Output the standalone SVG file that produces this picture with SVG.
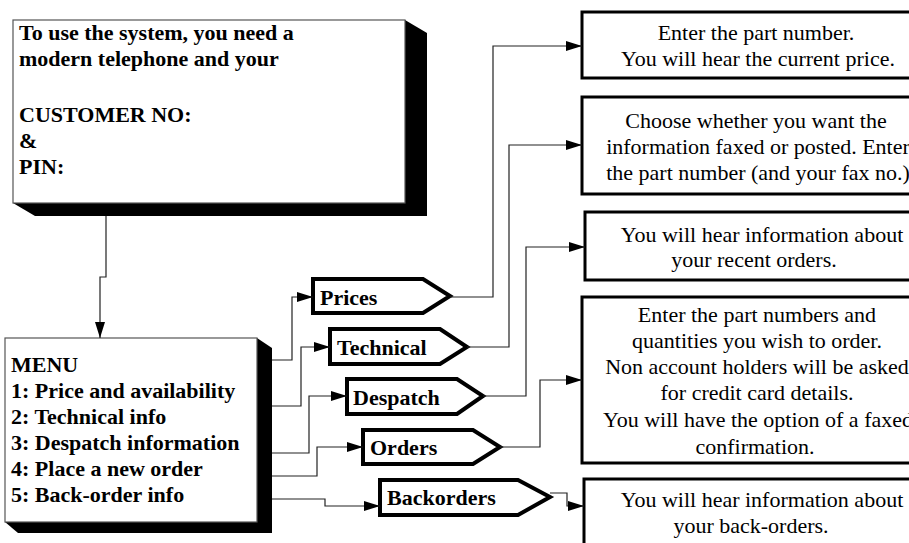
<svg xmlns="http://www.w3.org/2000/svg" width="909" height="543" viewBox="0 0 909 543">
<defs>
<style>
text{font-family:"Liberation Serif","Times New Roman",serif;font-size:22px;fill:#000}
.b{font-weight:bold}
.info text{text-anchor:middle}
.panel{fill:#fff;stroke:#555;stroke-width:1.2}
.shadow{fill:#000}
.tab{fill:#fff;stroke:#000;stroke-width:4;stroke-linejoin:miter}
.box{fill:#fff;stroke:#000;stroke-width:3}
.conn path{fill:none;stroke:#222;stroke-width:1.2}
</style>
<marker id="ah" markerWidth="16" markerHeight="10" refX="16" refY="5" orient="auto" markerUnits="userSpaceOnUse">
<path d="M0,0 L16,5 L0,10 Z" fill="#000"/>
</marker>
</defs>
<rect width="909" height="543" fill="#fff"/>

<g id="intro">
<polygon class="shadow" points="13,203 35,216 427,216 427,33 405,20"/>
<rect class="panel" x="13" y="20" width="392" height="183"/>
<text class="b" x="19" y="40">To use the system, you need a</text>
<text class="b" x="19" y="66">modern telephone and your</text>
<text class="b" x="19" y="122">CUSTOMER NO:</text>
<text class="b" x="19" y="148">&amp;</text>
<text class="b" x="19" y="174">PIN:</text>
</g>

<g id="menu">
<polygon class="shadow" points="5,522 18,533 272,533 272,348 257,338"/>
<rect class="panel" x="5" y="338" width="252" height="184"/>
<text class="b" x="11" y="372">MENU</text>
<text class="b" x="11" y="398">1: Price and availability</text>
<text class="b" x="11" y="424">2: Technical info</text>
<text class="b" x="11" y="450">3: Despatch information</text>
<text class="b" x="11" y="476">4: Place a new order</text>
<text class="b" x="11" y="502">5: Back-order info</text>
</g>

<g id="prices">
<polygon class="tab" points="313,279 423,279 450,296 423,313 313,313"/>
<text class="b" x="320" y="305">Prices</text>
</g>
<g id="technical">
<polygon class="tab" points="330,329 440,329 467,347 440,364 330,364"/>
<text class="b" x="337" y="355">Technical</text>
</g>
<g id="despatch">
<polygon class="tab" points="347,379 457,379 483,396 457,414 347,414"/>
<text class="b" x="353" y="405">Despatch</text>
</g>
<g id="orders">
<polygon class="tab" points="363,430 473,430 500,447 473,464 363,464"/>
<text class="b" x="370" y="455">Orders</text>
</g>
<g id="backorders">
<polygon class="tab" points="380,480 518,480 550,497 518,515 380,515"/>
<text class="b" x="387" y="505">Backorders</text>
</g>

<g id="info-price" class="info">
<rect class="box" x="582" y="12" width="360" height="66"/>
<text x="756" y="40">Enter the part number.</text>
<text x="758" y="66">You will hear the current price.</text>
</g>
<g id="info-technical" class="info">
<rect class="box" x="582" y="97" width="360" height="97"/>
<text x="756" y="128">Choose whether you want the</text>
<text x="758" y="154">information faxed or posted. Enter</text>
<text x="758" y="180">the part number (and your fax no.)</text>
</g>
<g id="info-despatch" class="info">
<rect class="box" x="585" y="212" width="360" height="68"/>
<text x="762" y="242">You will hear information about</text>
<text x="754" y="267">your recent orders.</text>
</g>
<g id="info-orders" class="info">
<rect class="box" x="582" y="297" width="360" height="166"/>
<text x="757" y="322">Enter the part numbers and</text>
<text x="757" y="348">quantities you wish to order.</text>
<text x="757" y="374">Non account holders will be asked</text>
<text x="757" y="400">for credit card details.</text>
<text x="758" y="427">You will have the option of a faxed</text>
<text x="755" y="454">confirmation.</text>
</g>
<g id="info-backorders" class="info">
<rect class="box" x="584" y="479" width="360" height="90"/>
<text x="762" y="507">You will hear information about</text>
<text x="751" y="533">your back-orders.</text>
</g>

<g id="connectors" class="conn">
<path d="M106,216 V277 H100 V338" marker-end="url(#ah)"/>
<path d="M272,360 H292 V297 H313" marker-end="url(#ah)"/>
<path d="M272,406 H301 V347 H330" marker-end="url(#ah)"/>
<path d="M272,453 H309 V396 H347" marker-end="url(#ah)"/>
<path d="M272,476 H317 V447 H363" marker-end="url(#ah)"/>
<path d="M272,499 H325 V506 H380" marker-end="url(#ah)"/>
<path d="M450,297 H493 V46 H582" marker-end="url(#ah)"/>
<path d="M467,347 H509 V145 H582" marker-end="url(#ah)"/>
<path d="M483,396 H526 V247 H585" marker-end="url(#ah)"/>
<path d="M500,447 H540 V380 H582" marker-end="url(#ah)"/>
<path d="M550,493 H567 V506 H584" marker-end="url(#ah)"/>
</g>
</svg>
